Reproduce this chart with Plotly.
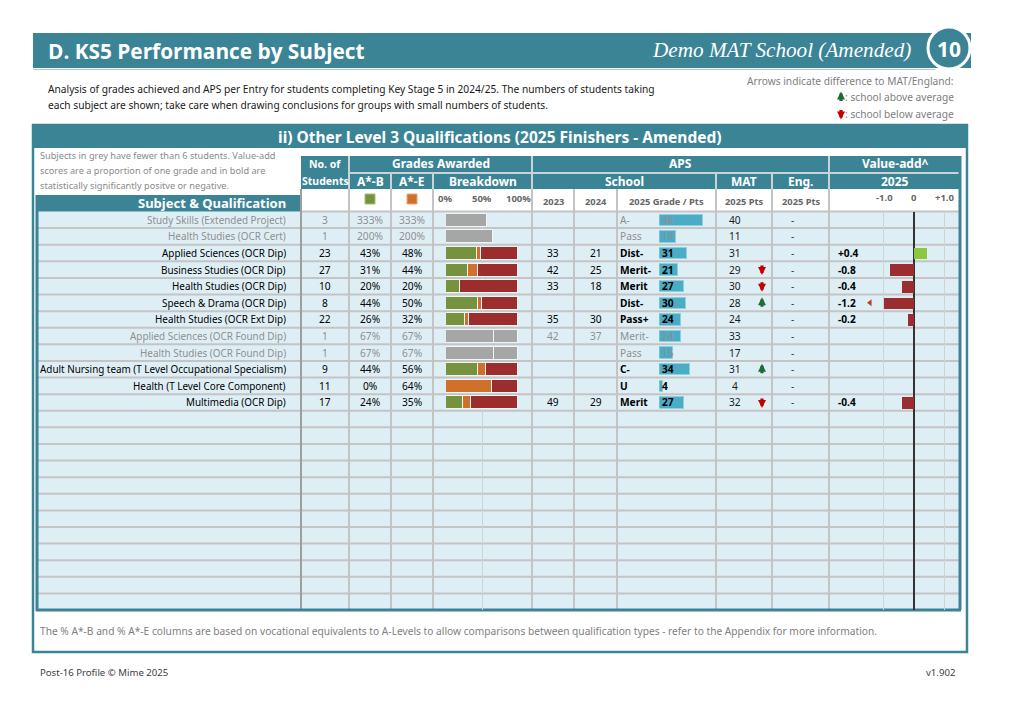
import plotly.graph_objects as go

# ---------------- data ----------------
subjects = [
    "Study Skills (Extended Project)",
    "Health Studies (OCR Cert)",
    "Applied Sciences (OCR Dip)",
    "Business Studies (OCR Dip)",
    "Health Studies (OCR Dip)",
    "Speech & Drama (OCR Dip)",
    "Health Studies (OCR Ext Dip)",
    "Applied Sciences (OCR Found Dip)",
    "Health Studies (OCR Found Dip)",
    "Adult Nursing team (T Level Occupational Specialism)",
    "Health (T Level Core Component)",
    "Multimedia (OCR Dip)",
]
students = [3, 1, 23, 27, 10, 8, 22, 1, 1, 9, 11, 17]
pct_ab = [333, 200, 43, 31, 20, 44, 26, 67, 67, 44, 0, 24]
pct_ae = [333, 200, 48, 44, 20, 50, 32, 67, 67, 56, 64, 35]
grey_bar_a = [57, 65, None, None, None, None, None, 66, 66, None, None, None]
grey_bar_b = [None, None, None, None, None, None, None, 34, 34, None, None, None]
aps_2023 = [None, None, 33, 42, 33, None, 35, 42, None, None, None, 49]
aps_2024 = [None, None, 21, 25, 18, None, 30, 37, None, None, None, 29]
grade_2025 = ["A-", "Pass", "Dist-", "Merit-", "Merit", "Dist-", "Pass+", "Merit-", "Pass", "C-", "U", "Merit"]
pts_2025 = [48, 19, 31, 21, 27, 30, 24, 24, 15, 34, 4, 27]
mat_2025 = [40, 11, 31, 29, 30, 28, 24, 33, 17, 31, 4, 32]
mat_arrow = [0, 0, 0, -1, -1, 1, 0, 0, 0, 1, 0, -1]
eng_2025 = ["-"] * 12
value_add = [None, None, 0.4, -0.8, -0.4, -1.2, -0.2, None, None, None, None, -0.4]
breakdown_ticks = [0, 50, 100]
breakdown_labels = ["0%", "50%", "100%"]
va_ticks = [-1.0, 0, 1.0]
va_tick_labels = ["-1.0", "0", "+1.0"]
TOTAL_ROWS = 24

# ---------------- style ----------------
W, H = 1012, 714
def X(px): return px / W
def Y(py): return 1 - py / H

TEAL = "#3b8496"
ROW_BG = "#deeef5"
GRID = "#c4c4c4"
HDR_SEP = "#c9d4d7"
GREY_TXT = "#8f8f8f"
GREEN = "#76923c"
ORANGE = "#d0702a"
RED = "#9b2d2d"
GREYBAR = "#a6a6a6"
APSBLUE = "#4bacc6"
VA_POS = "#8dc63f"
VA_NEG = "#9b2d30"
UP_COL = "#1e6b35"
DOWN_COL = "#c00000"
FONT = "Noto Sans"

body_top, body_bot = 211.5, 610.0
rh = (body_bot - body_top) / TOTAL_ROWS

rows = list(range(len(subjects)))
small = [s < 6 for s in students]

fig = go.Figure()

# breakdown bars
green = [None if sm else ab for sm, ab in zip(small, pct_ab)]
orange = [None if sm else ae - ab for sm, ab, ae in zip(small, pct_ab, pct_ae)]
red = [None if sm else 100 - ae for sm, ae in zip(small, pct_ae)]
seg_line = dict(color="#eef6f8", width=1)
for vals, col in [(green, GREEN), (orange, ORANGE), (red, RED), (grey_bar_a, GREYBAR), (grey_bar_b, GREYBAR)]:
    fig.add_trace(go.Bar(x=vals, y=rows, orientation="h", xaxis="x2", yaxis="y",
                         marker=dict(color=col, line=seg_line), width=0.78,
                         hoverinfo="skip", showlegend=False))

# APS bars
fig.add_trace(go.Bar(x=pts_2025, y=rows, orientation="h", xaxis="x3", yaxis="y",
                     marker=dict(color=APSBLUE, line=dict(color="#8fd0e0", width=1)),
                     width=0.68, hoverinfo="skip", showlegend=False))

# value-add bars (clipped at -1.0)
va_x = [None if v is None else max(v, -1.0) for v in value_add]
va_col = [VA_NEG if (v is not None and v < 0) else VA_POS for v in value_add]
fig.add_trace(go.Bar(x=va_x, y=rows, orientation="h", xaxis="x4", yaxis="y",
                     marker=dict(color=va_col, line=dict(width=0)), width=0.7,
                     hoverinfo="skip", showlegend=False))
off_rows = [r for r, v in zip(rows, value_add) if v is not None and v < -1.0]
fig.add_trace(go.Scatter(x=[-1.45] * len(off_rows), y=off_rows, xaxis="x4", yaxis="y",
                         mode="markers", marker=dict(symbol="triangle-left", size=6, color="#c0392b"),
                         hoverinfo="skip", showlegend=False))

# ---------------- shapes ----------------
shapes = []
def rect(x0, y0, x1, y1, fill=None, line_col=None, lw=0, layer="below"):
    shapes.append(dict(type="rect", xref="paper", yref="paper", x0=X(x0), x1=X(x1), y0=Y(y1), y1=Y(y0),
                       fillcolor=fill if fill else "rgba(0,0,0,0)",
                       line=dict(color=line_col if line_col else "rgba(0,0,0,0)", width=lw), layer=layer))
def line(x0, y0, x1, y1, col, lw, layer="below"):
    shapes.append(dict(type="line", xref="paper", yref="paper", x0=X(x0), x1=X(x1), y0=Y(y0), y1=Y(y1),
                       line=dict(color=col, width=lw), layer=layer))

# top banner
rect(33, 33, 971, 68, fill=TEAL)
line(33, 69.5, 935, 69.5, "#a9cbd4", 1)
shapes.append(dict(type="circle", xref="paper", yref="paper", x0=X(928), x1=X(970), y0=Y(69), y1=Y(27),
                   fillcolor=TEAL, line=dict(color="white", width=3), layer="above"))
# section box
rect(33, 125, 967, 148, fill=TEAL)
rect(33, 125, 967, 652, line_col=TEAL, lw=2.5)
# body background
rect(37, body_top, 960, body_bot, fill=ROW_BG)
# header cells
rect(301, 156, 960, 189, fill=TEAL)
rect(37, 195, 301, body_top, fill=TEAL)
# header separators
line(349, 173, 960, 173, HDR_SEP, 2)
for xx in [349, 532, 829]:
    line(xx, 156, xx, 189, HDR_SEP, 2)
for xx in [391, 433, 716, 772]:
    line(xx, 173, xx, 189, HDR_SEP, 2)
# row lines
line(301, body_top, 960, body_top, GRID, 2)
for k in range(1, TOTAL_ROWS):
    yy = body_top + k * rh
    line(37, yy, 960, yy, GRID, 2)
# column lines
line(301, 189, 301, body_bot, "#9e9e9e", 2)
for xx in [349, 391, 433, 532, 574, 617, 716, 772, 829]:
    line(xx, 189, xx, body_bot, GRID, 2)
# inner border
line(37, 195, 37, body_bot + 1, TEAL, 3)
line(36, body_bot, 961, body_bot, TEAL, 3)
line(960, 156, 960, body_bot, TEAL, 3)
# legend squares
rect(365, 194, 375, 204, fill=GREEN, line_col="#a5bf78", lw=1, layer="above")
rect(407, 194, 417, 204, fill=ORANGE, line_col="#e9a274", lw=1, layer="above")

# ---------------- annotations ----------------
anns = []
def ann(text, x, y, size=11, color="black", anchor="center", family=FONT, yref="paper", bold=False):
    t = f"<b>{text}</b>" if bold else text
    anns.append(dict(text=t, x=X(x), y=(Y(y) if yref == "paper" else y), xref="paper", yref=yref,
                     xanchor=anchor, yanchor="middle", showarrow=False,
                     font=dict(family=family, size=size, color=color)))

def arrow(x, y, up, yref="paper"):
    L = 11
    anns.append(dict(text="", x=X(x), y=(Y(y) if yref == "paper" else y), xref="paper", yref=yref,
                     showarrow=True, arrowhead=2, arrowsize=0.5, arrowwidth=3.2,
                     arrowcolor=UP_COL if up else DOWN_COL,
                     ax=0, ay=(L if up else -L), yshift=(L / 2 if up else -L / 2), standoff=0))

ann("D. KS5 Performance by Subject", 46, 51, 20.8, "white", "left", "Open Sans", bold=True)
ann("<i>Demo MAT School (Amended)</i>", 913, 50, 21.2, "white", "right", "Liberation Serif")
ann("10", 949, 49, 21, "white", "center", "Open Sans", bold=True)
ann("Analysis of grades achieved and APS per Entry for students completing Key Stage 5 in 2024/25. The numbers of students taking",
    46, 89, 10.2, "#1a1a1a", "left")
ann("each subject are shown; take care when drawing conclusions for groups with small numbers of students.",
    46, 105, 10.2, "#1a1a1a", "left")
ann("Arrows indicate difference to MAT/England:", 956, 81, 10.2, "#808080", "right")
ann(": school above average", 956, 97, 10.2, "#808080", "right")
ann(": school below average", 956, 114, 10.2, "#808080", "right")
arrow(841, 97, True)
arrow(841, 114, False)
ann("ii) Other Level 3 Qualifications (2025 Finishers - Amended)", 500, 137, 15.5, "white", "center", bold=True)
for i, t in enumerate(["Subjects in grey have fewer than 6 students. Value-add",
                       "scores are a proportion of one grade and in bold are",
                       "statistically significantly positve or negative."]):
    ann(t, 38, 155 + i * 15.5, 9.2, "#8a8a8a", "left")
ann("Subject & Qualification", 288, 203, 13, "white", "right", bold=True)

# header rows
ann("No. of", 325, 164, 10.5, "white", bold=True)
ann("Students", 325, 181, 10.5, "white", bold=True)
ann("Grades Awarded", 440.5, 164, 12, "white", bold=True)
ann("APS", 680.5, 164, 12, "white", bold=True)
ann("Value-add^", 894.5, 164, 12, "white", bold=True)
for t, xx in [("A*-B", 370), ("A*-E", 412), ("Breakdown", 482.5), ("School", 624), ("MAT", 744), ("Eng.", 800.5), ("2025", 894.5)]:
    ann(t, xx, 181, 12, "white", bold=True)
for t, xx in zip(breakdown_labels, [445, 482, 518]):
    ann(t, xx, 198, 9.5, "#666666", bold=True)
for t, xx in [("2023", 553), ("2024", 595.5), ("2025 Grade / Pts", 666.5), ("2025 Pts", 744), ("2025 Pts", 800.5)]:
    ann(t, xx, 201, 9.3, "#666666", bold=True)
for t, xx in zip(va_tick_labels, [884, 914, 945]):
    ann(t, xx, 197, 9.5, "#666666", bold=True)

# body
BS = 10.2
for r in rows:
    c = GREY_TXT if small[r] else "black"
    ann(subjects[r], 288, r, 9.9, c, "right", yref="y")
    ann(str(students[r]), 325, r, BS, c, yref="y")
    ann(f"{pct_ab[r]}%", 370, r, BS, c, yref="y")
    ann(f"{pct_ae[r]}%", 412, r, BS, c, yref="y")
    if aps_2023[r] is not None:
        ann(str(aps_2023[r]), 553, r, BS, c, yref="y")
    if aps_2024[r] is not None:
        ann(str(aps_2024[r]), 595.5, r, BS, c, yref="y")
    ann(grade_2025[r], 618, r, BS, c, "left", yref="y", bold=not small[r])
    ann(str(pts_2025[r]), 659.5, r, BS, c, "left", yref="y", bold=not small[r])
    ann(str(mat_2025[r]), 735, r, BS, "#1a1a1a", yref="y")
    if mat_arrow[r] != 0:
        arrow(762, r, mat_arrow[r] > 0, yref="y")
    ann(eng_2025[r], 792, r, BS, "#333333", yref="y")
    if value_add[r] is not None:
        ann(f"{value_add[r]:+.1f}", 836, r, BS, "black", "left", yref="y", bold=True)

ann("The % A*-B and % A*-E columns are based on vocational equivalents to A-Levels to allow comparisons between qualification types - refer to the Appendix for more information.",
    38, 631, 10.2, "#808080", "left")
ann("Post-16 Profile © Mime 2025", 38, 672, 9.6, "#404040", "left")
ann("v1.902", 957, 672, 9.6, "#404040", "right")

# ---------------- layout ----------------
aps_px_per_pt = 0.912
fig.update_layout(
    width=W, height=H, margin=dict(l=0, r=0, t=0, b=0),
    paper_bgcolor="white", plot_bgcolor="rgba(0,0,0,0)",
    barmode="stack", bargap=0, showlegend=False,
    shapes=shapes, annotations=anns,
    xaxis=dict(visible=False, domain=[0, 0.01], anchor="y"),
    xaxis2=dict(domain=[X(446), X(518)], range=[0, 100], anchor="y", tickvals=breakdown_ticks,
                showgrid=True, gridcolor="#cdd3d6", gridwidth=1, showticklabels=False,
                zeroline=False, showline=False, ticks="", fixedrange=True),
    xaxis3=dict(domain=[X(659.3), X(716)], range=[0, (716 - 659.3) / aps_px_per_pt], anchor="y",
                showgrid=False, showticklabels=False, zeroline=False, showline=False, fixedrange=True),
    xaxis4=dict(domain=[X(829), X(960)], range=[(829 - 914.3) / 30.5, (960 - 914.3) / 30.5], anchor="y",
                tickvals=[v for v in va_ticks if v != 0], showgrid=True, gridcolor="#cdd3d6", gridwidth=1,
                showticklabels=False, zeroline=True, zerolinecolor="#333333", zerolinewidth=2,
                showline=False, ticks="", fixedrange=True),
    yaxis=dict(domain=[Y(body_bot), Y(body_top)], range=[TOTAL_ROWS - 0.5, -0.5], anchor="x2",
               showgrid=False, showticklabels=False, zeroline=False, showline=False, fixedrange=True),
)

fig.write_html("out.html", config={"displayModeBar": False},
               post_script="document.body.style.margin='0';document.body.style.padding='0';")
